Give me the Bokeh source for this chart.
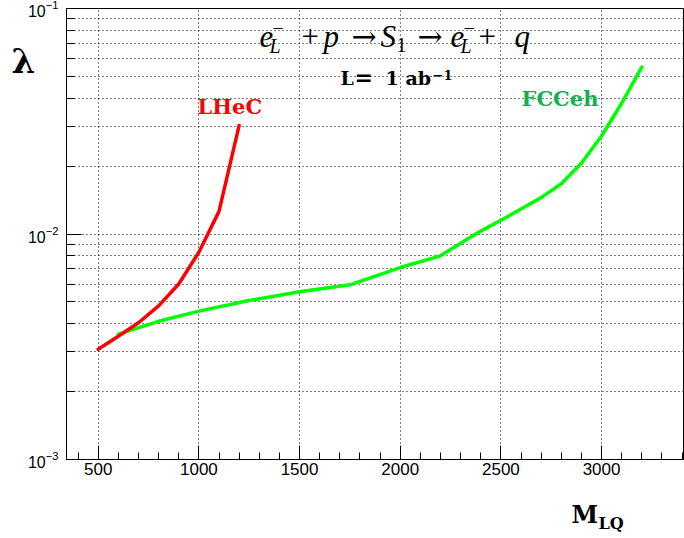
import numpy as np
from bokeh.plotting import figure
from bokeh.models import Label, FixedTicker, SingleIntervalTicker
from bokeh.embed import file_html
from bokeh.resources import INLINE

# ---- data ----
lhec_mass = [500, 600, 700, 800, 900, 1000, 1100, 1200]
lhec_lambda = [0.00308, 0.00352, 0.00404, 0.0048, 0.0060, 0.0083, 0.0126, 0.0303]

fcceh_mass = [600, 800, 1000, 1250, 1500, 1750, 2000, 2200, 2300, 2400,
              2500, 2600, 2700, 2800, 2900, 3000, 3100, 3200]
fcceh_lambda = [0.0036, 0.0041, 0.00455, 0.00507, 0.00555, 0.00595, 0.0071,
                0.0080, 0.0091, 0.0103, 0.0115, 0.0129, 0.0145, 0.0167,
                0.0206, 0.0272, 0.038, 0.055]

x_tick_interval = 500
y_major_ticks = [1e-3, 1e-2, 1e-1]
y_minor_ticks = [m * d for d in (1e-3, 1e-2) for m in range(2, 10)]

X_START, X_END = 342.5, 3412
Y_START, Y_END = 1e-3, 1e-1

FRAME_L, FRAME_T, FRAME_W, FRAME_H = 66, 8, 618, 451
BORDER_B = 79

p = figure(frame_width=FRAME_W, frame_height=FRAME_H,
           min_border_left=FRAME_L, min_border_right=0,
           min_border_top=FRAME_T, min_border_bottom=BORDER_B,
           x_range=(X_START, X_END), y_range=(Y_START, Y_END),
           y_axis_type="log", output_backend="svg", toolbar_location=None,
           background_fill_color="white", border_fill_color="white")

p.outline_line_color = "black"
p.outline_line_width = 1

# axes
p.xaxis.ticker = SingleIntervalTicker(interval=x_tick_interval, num_minor_ticks=5)
p.yaxis.ticker = FixedTicker(ticks=y_major_ticks, minor_ticks=y_minor_ticks)
for ax in (p.xaxis[0], p.yaxis[0]):
    ax.axis_line_color = "black"
    ax.axis_line_width = 1
    ax.major_tick_line_color = "black"
    ax.minor_tick_line_color = "black"
    ax.major_tick_out = 0
    ax.minor_tick_out = 0
    ax.major_label_text_font = "Liberation Sans"
    ax.major_label_text_color = "black"
p.xaxis.major_tick_in = 14
p.xaxis.minor_tick_in = 7
p.xaxis.major_label_text_font_size = "17px"
p.xaxis.major_label_standoff = 3
p.yaxis.major_tick_in = 15
p.yaxis.minor_tick_in = 8
p.yaxis.major_label_text_font_size = "16px"
p.yaxis.major_label_standoff = 8

# grids
for g in (p.xgrid[0], p.ygrid[0]):
    g.grid_line_color = "black"
    g.grid_line_dash = "1 3"
    g.grid_line_alpha = 1.0
p.ygrid.minor_grid_line_color = "black"
p.ygrid.minor_grid_line_dash = "1 3"
p.ygrid.minor_grid_line_alpha = 1.0

# curves
p.line(fcceh_mass, fcceh_lambda, line_color="#00ff00", line_width=3.5,
       line_join="round", line_cap="round")
p.line(lhec_mass, lhec_lambda, line_color="#ff0000", line_width=3.5,
       line_join="round", line_cap="round")

# ---- text annotations (positions in page pixels, py = glyph baseline) ----
BASE_SHIFT = 0.37  # rendered text sits ~0.37 em lower than the requested y


def px_x(px):
    return X_START + (px - FRAME_L) / FRAME_W * (X_END - X_START)


def px_y(py):
    ly0, ly1 = np.log10(Y_START), np.log10(Y_END)
    return 10 ** (ly1 - (py - FRAME_T) / FRAME_H * (ly1 - ly0))


def add_text(txt, px, py, size, font="Liberation Serif", style="normal", color="black"):
    py = py - BASE_SHIFT * size
    p.add_layout(Label(x=px_x(px), y=px_y(py), text=txt, text_font=font,
                       text_font_size=f"{size}px", text_font_style=style,
                       text_color=color, text_baseline="alphabetic",
                       text_align="left"))


def add_side_text(txt, px, py, size, side, font="DejaVu Serif", style="bold"):
    py = py - BASE_SHIFT * size
    p.add_layout(Label(x=px, y=py, x_units="canvas", y_units="canvas", text=txt,
                       text_font=font, text_font_size=f"{size}px",
                       text_font_style=style, text_color="black",
                       text_baseline="alphabetic", text_align="left"), side)


# process formula: e_L^- + p -> S_1 -> e_L^- + q
FS, SS = 31, 20
AF = "DejaVu Serif"
add_text("e", 259, 47, FS, style="italic")
add_text("L", 269, 53, SS, style="italic")
add_text("\u2212", 272, 35, SS)
add_text("+", 301, 47, FS)
add_text("p", 323, 47, FS, style="italic")
add_text("\u2192", 351, 47, 30, font=AF)
add_text("S", 380, 47, FS, style="italic")
add_text("1", 396, 52, SS)
add_text("\u2192", 417, 47, 30, font=AF)
add_text("e", 450, 47, FS, style="italic")
add_text("L", 460, 53, SS, style="italic")
add_text("\u2212", 463, 35, SS)
add_text("+", 478, 47, FS)
add_text("q", 514, 47, FS, style="italic")

# luminosity
BF = "DejaVu Serif"
add_text("L", 340, 85, 19, font=BF, style="bold")
add_text("=", 354, 85, 22, font=BF, style="bold")
add_text("1", 385, 85, 19, font=BF, style="bold")
add_text("ab", 405, 85, 19, font=BF, style="bold")
add_text("\u22121", 432, 79, 13, font=BF, style="bold")

# curve labels
add_text("LHeC", 197, 114, 21, font=BF, style="bold", color="#ff0000")
add_text("FCCeh", 521, 106, 21, font=BF, style="bold", color="#12b04f")

# axis titles (outside the frame, in side panels, canvas pixel units)
add_side_text("\u03bb", 11, 73, 34, "left")
add_side_text("M", 571, 523, 24, "below")
add_side_text("LQ", 598, 529, 16, "below")

open("out.html", "w").write(file_html(p, INLINE))
